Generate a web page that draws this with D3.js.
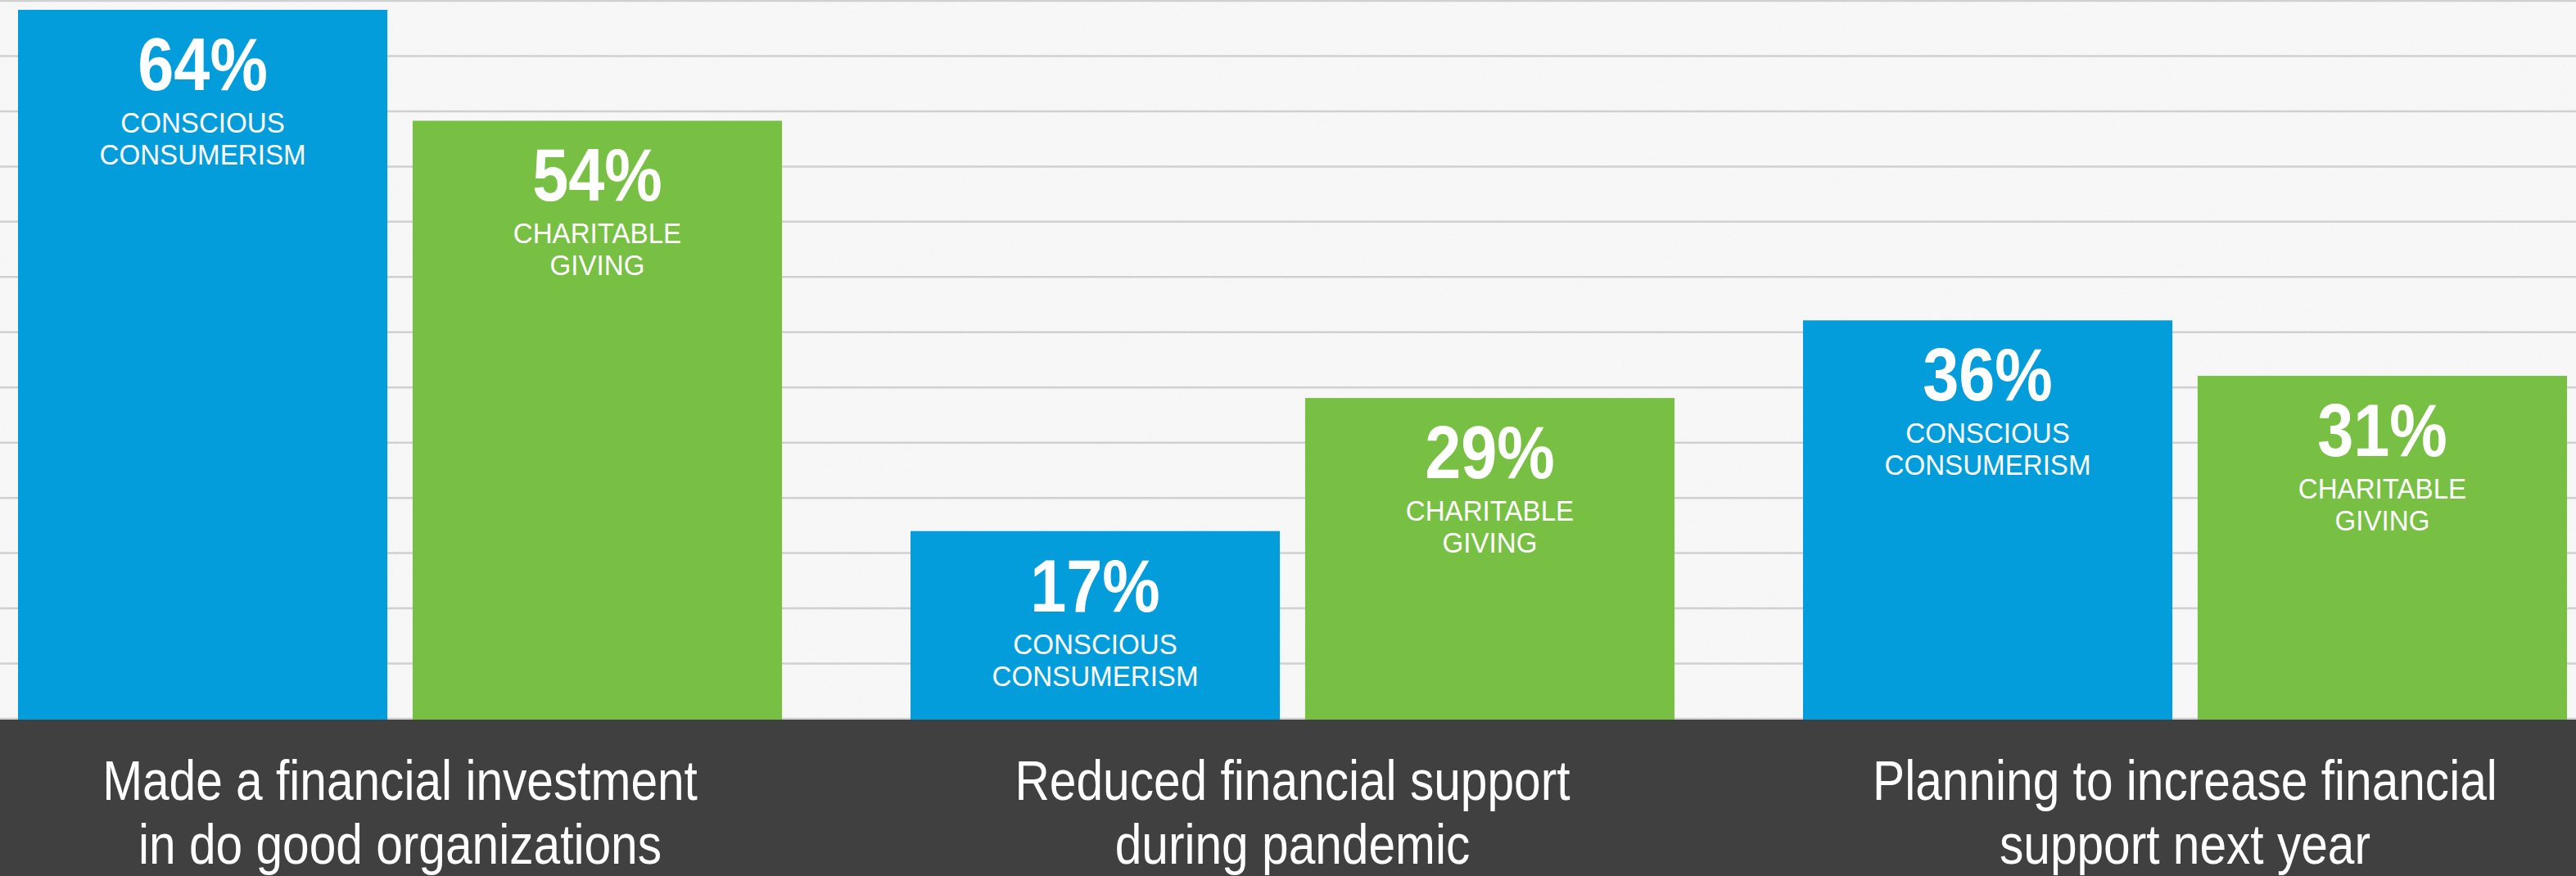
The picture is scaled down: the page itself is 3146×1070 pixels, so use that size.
<!DOCTYPE html>
<html>
<head>
<meta charset="utf-8">
<script src="https://cdn.jsdelivr.net/npm/d3@7"></script>
<style>
  html, body { margin: 0; padding: 0; background: #f6f6f6; }
  svg { display: block; }
  text { font-family: "Liberation Sans", Arial, sans-serif; fill: #fff; }
</style>
</head>
<body>
<div id="chart"></div>
<script>
// data
const groups = ["investment", "reduced", "planning"];
const groupLines = [
    ["Made a financial investment", "in do good organizations"],
    ["Reduced financial support", "during pandemic"],
    ["Planning to increase financial", "support next year"]
];
const series = ["conscious", "charitable"];
const seriesLabels = [["CONSCIOUS", "CONSUMERISM"], ["CHARITABLE", "GIVING"]];
const conscious = [64, 17, 36];
const charitable = [54, 29, 31];
const gridTicks = d3.range(0, 70, 5);

const width = 3146;
const height = 1070;
const baseY = 879;
const colors = ["#039ddb", "#77c043"];

const svg = d3.select("#chart")
    .append("svg")
    .attr("width", width)
    .attr("height", height);

// paper-ish noise for the background
const filter = svg.append("defs").append("filter")
    .attr("id", "noise")
    .attr("x", 0).attr("y", 0).attr("width", "100%").attr("height", "100%");
filter.append("feTurbulence")
    .attr("type", "fractalNoise")
    .attr("baseFrequency", 0.35)
    .attr("numOctaves", 2)
    .attr("seed", 3);
filter.append("feColorMatrix")
    .attr("type", "saturate")
    .attr("values", 0);

svg.append("rect")
    .attr("width", width)
    .attr("height", height)
    .attr("fill", "#f8f8f8");

svg.append("rect")
    .attr("width", width)
    .attr("height", baseY)
    .attr("filter", "url(#noise)")
    .attr("opacity", 0.04);

const x0 = d3.scaleBand()
    .domain(groups)
    .range([22, 3135])
    .paddingInner(0.144);

const x1 = d3.scaleBand()
    .domain(series)
    .range([0, x0.bandwidth()])
    .paddingInner(0.064);

const y = d3.scaleLinear()
    .domain([0, 64])
    .range([baseY, 12]);

// the ruled lines are decoration, on their own scale
const yGrid = d3.scaleLinear()
    .domain([0, 65])
    .range([878, 1]);

svg.append("g")
    .attr("stroke", "#d0d0d0")
    .attr("stroke-width", 2.5)
    .selectAll("line")
    .data(gridTicks)
    .join("line")
    .attr("x1", 0)
    .attr("x2", width)
    .attr("y1", d => yGrid(d))
    .attr("y2", d => yGrid(d));

// bottom band
svg.append("rect")
    .attr("x", 0)
    .attr("y", baseY)
    .attr("width", width)
    .attr("height", height - baseY)
    .attr("fill", "#404040");

const rows = [];
groups.forEach((g, i) => {
    rows.push({group: g, key: "conscious", si: 0, value: conscious[i]});
    rows.push({group: g, key: "charitable", si: 1, value: charitable[i]});
});

const bar = svg.append("g")
    .selectAll("g")
    .data(rows)
    .join("g");

bar.append("rect")
    .attr("x", d => x0(d.group) + x1(d.key))
    .attr("y", d => y(d.value))
    .attr("width", x1.bandwidth())
    .attr("height", d => baseY - y(d.value))
    .attr("fill", d => colors[d.si]);

// labels inside bars
const lab = bar.append("g")
    .attr("transform", d => `translate(${x0(d.group) + x1(d.key) + x1.bandwidth() / 2},${y(d.value)})`);

lab.append("text")
    .attr("text-anchor", "middle")
    .attr("font-weight", "bold")
    .attr("font-size", 90)
    .attr("transform", "translate(0,98) scale(0.88,1)")
    .text(d => d.value + "%");

lab.append("text")
    .attr("text-anchor", "middle")
    .attr("font-size", 36)
    .attr("transform", "translate(0,150) scale(0.92,1)")
    .text(d => seriesLabels[d.si][0]);

lab.append("text")
    .attr("text-anchor", "middle")
    .attr("font-size", 36)
    .attr("transform", "translate(0,189) scale(0.92,1)")
    .text(d => seriesLabels[d.si][1]);

// category labels
const cat = svg.append("g")
    .selectAll("g")
    .data(groups)
    .join("g")
    .attr("transform", d => `translate(${x0(d) + x0.bandwidth() / 2},0)`);

cat.selectAll("text")
    .data((d, i) => groupLines[i])
    .join("text")
    .attr("text-anchor", "middle")
    .attr("font-size", 69)
    .attr("transform", (d, j) => `translate(0,${977 + j * 78}) scale(0.85,1)`)
    .text(d => d);
</script>
</body>
</html>
